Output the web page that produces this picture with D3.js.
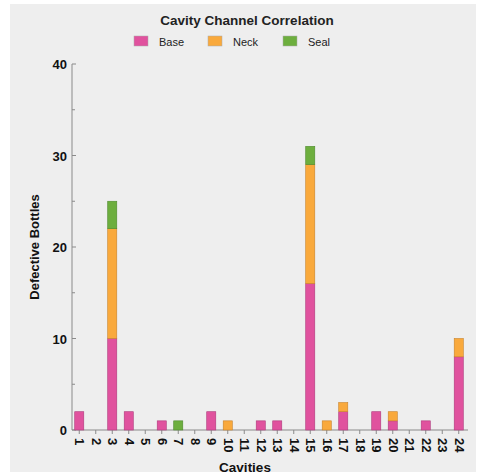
<!DOCTYPE html>
<html><head><meta charset="utf-8">
<script src="https://cdn.jsdelivr.net/npm/d3@7/dist/d3.min.js"></script>
<style>body{margin:0;background:#fff;}svg{display:block;font-family:"Liberation Sans",Arial,sans-serif;}</style>
</head><body><svg width="478" height="476"></svg>
<script>
const categories = d3.range(1, 25).map(String);
const seriesNames = ["Base", "Neck", "Seal"];
const base = [2,0,10,2,0,1,0,0,2,0,0,1,1,0,16,0,2,0,2,1,0,1,0,8];
const neck = [0,0,12,0,0,0,0,0,0,1,0,0,0,0,13,1,1,0,0,1,0,0,0,2];
const seal = [0,0,3,0,0,0,1,0,0,0,0,0,0,0,2,0,0,0,0,0,0,0,0,0];
const colors = ["#e0529e", "#f9a93c", "#6dae3e"];
const strokes = ["#b03a7c", "#c9822a", "#4d8a2c"];
const yTicks = [0,10,20,30,40];

const rows = categories.map((c,i)=>({cat:c, Base:base[i], Neck:neck[i], Seal:seal[i]}));
const stack = d3.stack().keys(seriesNames)(rows);

const svg = d3.select("svg");
svg.append("rect").attr("x",10).attr("y",4).attr("width",466).attr("height",468).attr("fill","#eeeeee");

const x = d3.scaleBand().domain(categories).range([71,467]).paddingInner(0.45).paddingOuter(0.225);
const y = d3.scaleLinear().domain([0,40]).range([430,64]);

// y axis line
svg.append("line").attr("x1",72).attr("x2",72).attr("y1",y(40)).attr("y2",y(0)).attr("stroke","#8a8a8a");
// x axis line
svg.append("line").attr("x1",72).attr("x2",468).attr("y1",y(0)).attr("y2",y(0)).attr("stroke","#8a8a8a");
// y ticks major & minor
d3.range(0,41,5).forEach(v=>{
  const major = v%10===0;
  svg.append("line").attr("x1",72).attr("x2",major?76:75).attr("y1",y(v)).attr("y2",y(v)).attr("stroke","#8a8a8a");
});
svg.selectAll(".yl").data(yTicks).join("text")
  .attr("x",67).attr("y",d=>y(d)+5).attr("text-anchor","end")
  .attr("font-size",13).attr("font-weight","bold").attr("fill","#111").text(d=>d);

// x ticks
categories.forEach(c=>{
  const cx = x(c)+x.bandwidth()/2;
  svg.append("line").attr("x1",cx).attr("x2",cx).attr("y1",y(0)).attr("y2",y(0)+4).attr("stroke","#8a8a8a");
  svg.append("text").attr("transform",`translate(${cx-4},${y(0)+8}) rotate(90)`)
    .attr("font-size",13).attr("font-weight","bold").attr("fill","#111").text(c);
});

// bars
stack.forEach((s,si)=>{
  svg.append("g").selectAll("rect").data(s.filter(d=>d[1]>d[0])).join("rect")
    .attr("x",d=>x(d.data.cat)).attr("width",x.bandwidth())
    .attr("y",d=>y(d[1])).attr("height",d=>y(d[0])-y(d[1]))
    .attr("fill",colors[si]).attr("stroke",strokes[si]).attr("stroke-width",0.6);
});

// title
svg.append("text").attr("x",247).attr("y",25).attr("text-anchor","middle")
  .attr("font-size",13.5).attr("font-weight","bold").attr("fill","#222").text("Cavity Channel Correlation");
// legend
const lx = [134,208,283];
seriesNames.forEach((n,i)=>{
  svg.append("rect").attr("x",lx[i]).attr("y",36).attr("width",14).attr("height",10)
    .attr("fill",colors[i]).attr("stroke","#aaa").attr("stroke-width",0.5);
  svg.append("text").attr("x",lx[i]+25).attr("y",45.5).attr("font-size",11).attr("fill","#222").text(n);
});
// axis titles
svg.append("text").attr("transform","translate(39,247) rotate(-90)").attr("text-anchor","middle")
  .attr("font-size",13).attr("font-weight","bold").attr("fill","#111").text("Defective Bottles");
svg.append("text").attr("x",245).attr("y",472).attr("text-anchor","middle")
  .attr("font-size",13.5).attr("font-weight","bold").attr("fill","#111").text("Cavities");
</script></body></html>
